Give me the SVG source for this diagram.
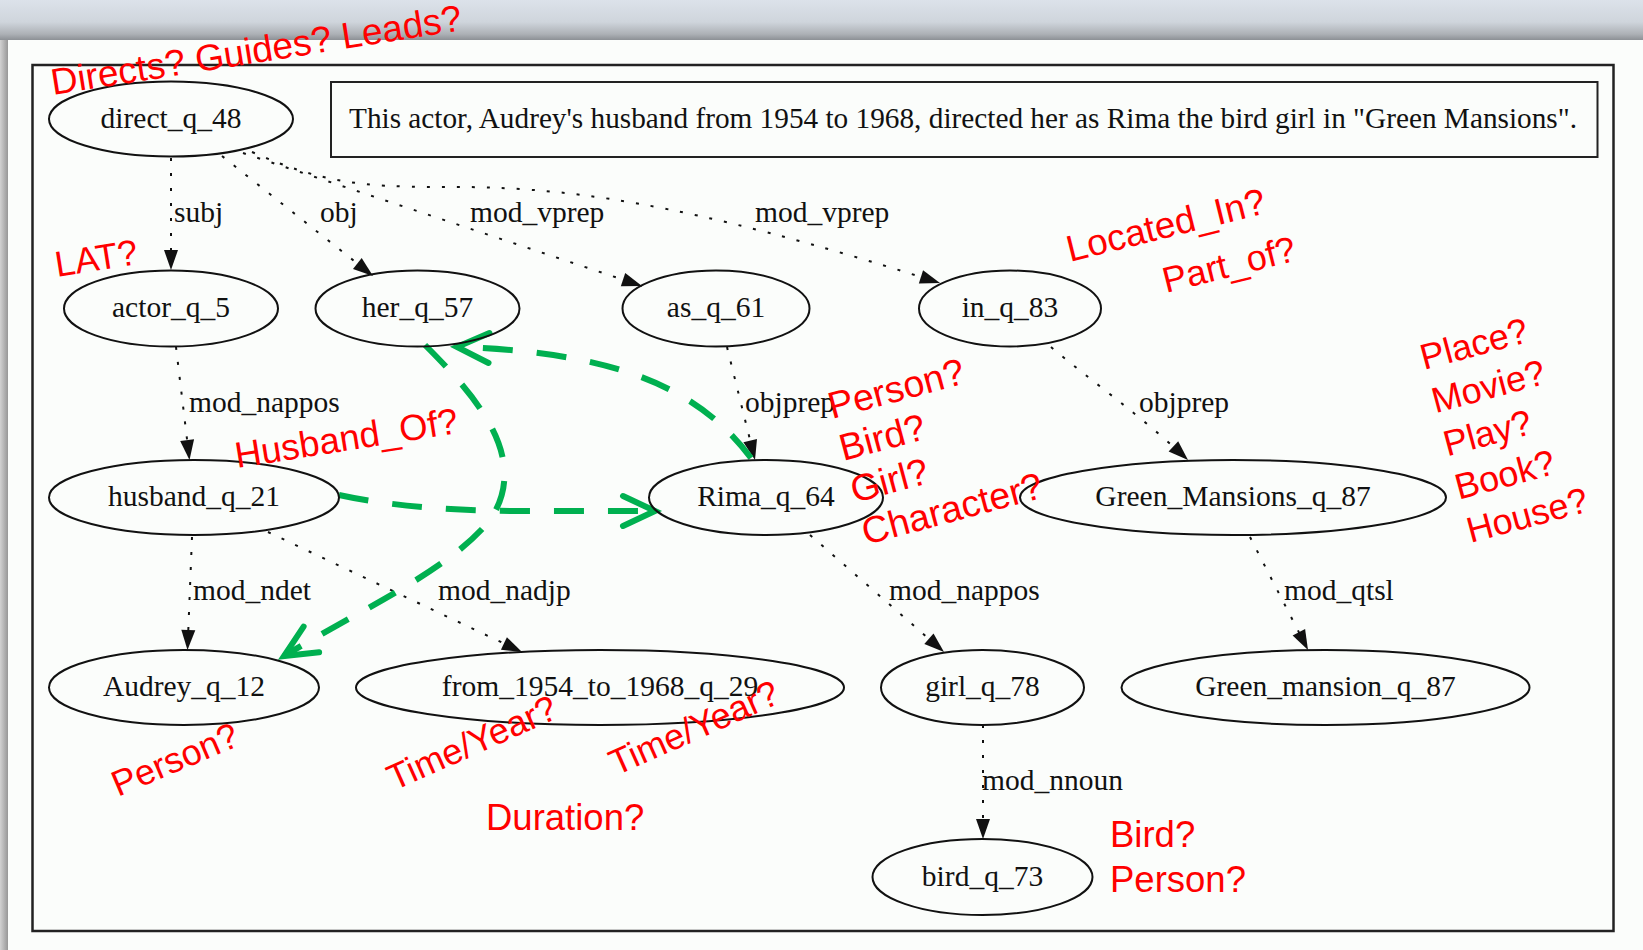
<svg xmlns="http://www.w3.org/2000/svg" width="1643" height="950" viewBox="0 0 1643 950">
  <style>
    .node ellipse { fill: none; stroke: #111; stroke-width: 2; }
    .node text, .elabel { font-family: "Liberation Serif", "Times New Roman", serif; font-size: 29.5px; fill: #111; }
    .node text { text-anchor: middle; }
    .edge { fill: none; stroke: #111; stroke-width: 2; stroke-dasharray: 3 12; marker-end: url(#arrow); }
    .hint { fill: none; stroke: #00b050; stroke-width: 6; stroke-dasharray: 30 24; marker-end: url(#chevron); }
    .note { font-family: "Liberation Sans", Arial, sans-serif; font-size: 37px; fill: #ff0000; }
  </style>
  <defs>
    <linearGradient id="topBand" x1="0" y1="0" x2="0" y2="1">
      <stop offset="0" stop-color="#dce2ea"/>
      <stop offset="0.55" stop-color="#cfd5dc"/>
      <stop offset="0.85" stop-color="#adb1b6"/>
      <stop offset="1" stop-color="#8c9095"/>
    </linearGradient>
    <linearGradient id="leftBand" x1="0" y1="0" x2="1" y2="0">
      <stop offset="0" stop-color="#d2d2d2"/>
      <stop offset="1" stop-color="#979797"/>
    </linearGradient>
    <marker id="arrow" markerUnits="userSpaceOnUse" markerWidth="22" markerHeight="16" refX="20" refY="7" orient="auto" overflow="visible">
      <path d="M0,0 L20,7 L0,14 z" fill="#111" stroke="none"/>
    </marker>
    <marker id="chevron" markerUnits="userSpaceOnUse" markerWidth="40" markerHeight="34" refX="32" refY="15" orient="auto" overflow="visible">
      <path d="M0,0 L32,15 L0,30" fill="none" stroke="#00b050" stroke-width="6" stroke-dasharray="none" stroke-linecap="round" stroke-linejoin="miter"/>
    </marker>
  </defs>

  <!-- window backdrop and page -->
  <rect x="0" y="0" width="1643" height="950" fill="#c9c9c9"/>
  <rect x="0" y="0" width="1643" height="40" fill="url(#topBand)"/>
  <rect x="0" y="40" width="8" height="910" fill="url(#leftBand)"/>
  <rect x="8" y="40" width="1635" height="910" fill="#fbfdfb"/>

  <!-- graph frame and sentence box -->
  <rect x="32.5" y="65" width="1581" height="866" fill="none" stroke="#222" stroke-width="2.5"/>
  <g id="sentence">
    <rect x="331" y="82" width="1266.5" height="75" fill="none" stroke="#222" stroke-width="2"/>
    <text x="349" y="128" class="elabel" textLength="1228" lengthAdjust="spacingAndGlyphs">This actor, Audrey's husband from 1954 to 1968, directed her as Rima the bird girl in "Green Mansions".</text>
  </g>

  <!-- dependency edges -->
  <g id="connectors">
    <path class="edge" d="M171,158 L171,270"/>
    <path class="edge" d="M222,156 L373,276"/>
    <path class="edge" d="M243,153 L642,286"/>
    <path class="edge" d="M252,152 C320,182 360,187 440,187 C560,186 680,200 940,283"/>
    <path class="edge" d="M176,347 L189.5,460"/>
    <path class="edge" d="M727,347 L755,460"/>
    <path class="edge" d="M1051,347 C1090,380 1140,415 1188,460"/>
    <path class="edge" d="M192,537 L187.5,650"/>
    <path class="edge" d="M268,532 L522,652"/>
    <path class="edge" d="M810,535 L944,652"/>
    <path class="edge" d="M1250,537 L1308,650"/>
    <path class="edge" d="M983,725 L983,839"/>

    <text class="elabel" x="174" y="222">subj</text>
    <text class="elabel" x="320" y="222">obj</text>
    <text class="elabel" x="470" y="222">mod_vprep</text>
    <text class="elabel" x="755" y="222">mod_vprep</text>
    <text class="elabel" x="189" y="412">mod_nappos</text>
    <text class="elabel" x="745" y="412">objprep</text>
    <text class="elabel" x="1139" y="412">objprep</text>
    <text class="elabel" x="193" y="600">mod_ndet</text>
    <text class="elabel" x="438" y="600">mod_nadjp</text>
    <text class="elabel" x="889" y="600">mod_nappos</text>
    <text class="elabel" x="1284" y="600">mod_qtsl</text>
    <text class="elabel" x="982" y="790">mod_nnoun</text>

    <!-- inferred relations -->
    <path class="hint" d="M339,495 C380,504 440,511 520,511 L655,511"/>
    <path class="hint" d="M751,458 C700,390 620,352 457,347"/>
    <path class="hint" d="M425,345 C480,400 530,460 490,520 C450,570 360,610 284,656"/>
  </g>

  <!-- nodes -->
  <g id="direct_q_48" class="node"><ellipse cx="171" cy="119" rx="122" ry="37.5"/><text x="171" y="128">direct_q_48</text></g>
  <g id="actor_q_5" class="node"><ellipse cx="171" cy="308.5" rx="107" ry="38"/><text x="171" y="317">actor_q_5</text></g>
  <g id="her_q_57" class="node"><ellipse cx="417.5" cy="308.5" rx="102" ry="38"/><text x="417.5" y="317">her_q_57</text></g>
  <g id="as_q_61" class="node"><ellipse cx="716" cy="308.5" rx="93.5" ry="38"/><text x="716" y="317">as_q_61</text></g>
  <g id="in_q_83" class="node"><ellipse cx="1010" cy="308.5" rx="91" ry="38"/><text x="1010" y="317">in_q_83</text></g>
  <g id="husband_q_21" class="node"><ellipse cx="194" cy="497.5" rx="145" ry="37.5"/><text x="194" y="506">husband_q_21</text></g>
  <g id="Rima_q_64" class="node"><ellipse cx="766" cy="497.5" rx="117" ry="37.5"/><text x="766" y="506">Rima_q_64</text></g>
  <g id="Green_Mansions_q_87" class="node"><ellipse cx="1233" cy="497.5" rx="213" ry="37.5"/><text x="1233" y="506">Green_Mansions_q_87</text></g>
  <g id="Audrey_q_12" class="node"><ellipse cx="184" cy="687.5" rx="135" ry="37.5"/><text x="184" y="696">Audrey_q_12</text></g>
  <g id="from_1954_to_1968_q_29" class="node"><ellipse cx="600" cy="687.5" rx="244" ry="37.5"/><text x="600" y="696">from_1954_to_1968_q_29</text></g>
  <g id="girl_q_78" class="node"><ellipse cx="982.5" cy="687.5" rx="101.5" ry="37.5"/><text x="982.5" y="696">girl_q_78</text></g>
  <g id="Green_mansion_q_87" class="node"><ellipse cx="1325.5" cy="687.5" rx="204" ry="37.5"/><text x="1325.5" y="696">Green_mansion_q_87</text></g>
  <g id="bird_q_73" class="node"><ellipse cx="982.5" cy="877" rx="110" ry="38"/><text x="982.5" y="886">bird_q_73</text></g>

  <!-- red annotations -->
  <g id="annotations">
    <text class="note" style="font-size:37px" transform="translate(53,95) rotate(-9)">Directs? Guides? Leads?</text>
    <text class="note" style="font-size:36px" transform="translate(57,277) rotate(-9)">LAT?</text>
    <text class="note" style="font-size:37px" transform="translate(1070,262) rotate(-14)">Located_In?</text>
    <text class="note" style="font-size:36px" transform="translate(1166,293) rotate(-14)">Part_of?</text>
    <text class="note" style="font-size:36px" transform="translate(1424,370) rotate(-15)">
      <tspan x="0" y="0">Place?</tspan>
      <tspan x="0" y="44.8">Movie?</tspan>
      <tspan x="0" y="89.6">Play?</tspan>
      <tspan x="0" y="134.4">Book?</tspan>
      <tspan x="0" y="179.2">House?</tspan>
    </text>
    <text class="note" style="font-size:37.5px" transform="translate(832,419) rotate(-15)">
      <tspan x="0" y="0">Person?</tspan>
      <tspan x="0" y="43.5">Bird?</tspan>
      <tspan x="0" y="87">Girl?</tspan>
      <tspan x="0" y="130.5">Character?</tspan>
    </text>
    <text class="note" style="font-size:36.5px" transform="translate(237,468) rotate(-9)">Husband_Of?</text>
    <text class="note" style="font-size:36px" transform="translate(118,797) rotate(-23)">Person?</text>
    <text class="note" style="font-size:36px" transform="translate(394,791) rotate(-24)">Time/Year?</text>
    <text class="note" style="font-size:36px" transform="translate(616,776) rotate(-24)">Time/Year?</text>
    <text class="note" style="font-size:36.5px" x="486" y="830">Duration?</text>
    <text class="note" style="font-size:36.5px" x="1110" y="847">Bird?</text>
    <text class="note" style="font-size:36.5px" x="1110" y="892">Person?</text>
  </g>
</svg>
